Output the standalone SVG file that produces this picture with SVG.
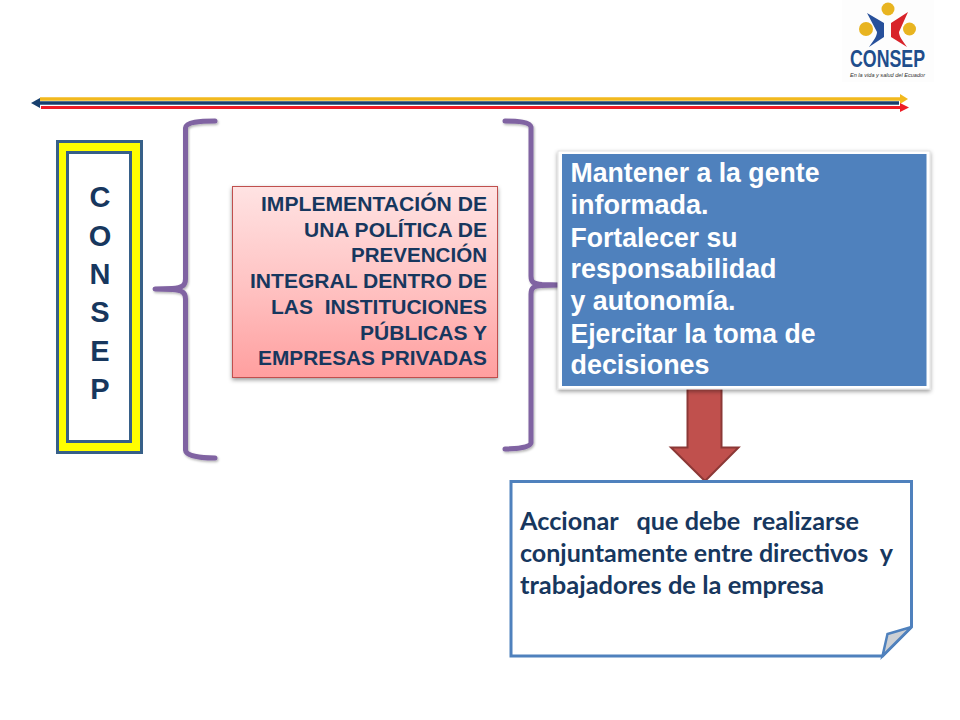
<svg xmlns="http://www.w3.org/2000/svg" width="960" height="720" viewBox="0 0 960 720">
<style>
.sans{font-family:"Liberation Sans",Arial,sans-serif;font-weight:bold}
.navy{fill:#17375e}
.brace{fill:none;stroke:#8064a2;stroke-width:5;stroke-linecap:round;stroke-linejoin:round;filter:url(#soft)}
.red{font-size:20px;text-anchor:end}
.white{font-size:27px;fill:#fff}
.note{font-family:Lato,"Open Sans",sans-serif;font-weight:bold;font-size:24px}
</style>
<defs>
<linearGradient id="pink" x1="0" y1="0" x2="0" y2="1"><stop offset="0" stop-color="#ffe3e3"/><stop offset="0.5" stop-color="#ffc4c4"/><stop offset="1" stop-color="#ff9f9f"/></linearGradient>
<filter id="soft" x="-20%" y="-5%" width="140%" height="110%"><feDropShadow dx="1" dy="1.5" stdDeviation="1.2" flood-color="#000" flood-opacity="0.3"/></filter>
<filter id="shadow" x="-5%" y="-5%" width="110%" height="110%"><feDropShadow dx="0" dy="2" stdDeviation="2" flood-color="#000" flood-opacity="0.4"/></filter>
</defs>
<rect width="960" height="720" fill="#fff"/>
<g id="logo">
<rect x="842" y="0" width="92" height="82" fill="#fdfdfd"/>
<circle cx="888" cy="9" r="6.500" fill="#e8b420"/>
<circle cx="866" cy="29" r="7" fill="#e8b420"/>
<circle cx="909.500" cy="29" r="6.500" fill="#e8b420"/>
<path d="M867 13L884 23V37L869 47C874 40 877 36 877 32Z" fill="#27509b"/>
<path d="M908 12L891 23V37L907 47C902 40 899 36 899 32Z" fill="#d8232a"/>
<text x="887.500" y="66.500" text-anchor="middle" font-family="Liberation Sans,Arial,sans-serif" font-weight="bold" font-size="23" fill="#1f4e8c" textLength="75" lengthAdjust="spacingAndGlyphs">CONSEP</text>
<text x="887.500" y="77" text-anchor="middle" font-family="Liberation Sans,Arial,sans-serif" font-style="italic" font-size="6" fill="#333" textLength="75" lengthAdjust="spacingAndGlyphs">En la vida y salud del Ecuador</text>
</g>
<g id="connectors">
<path d="M40 99H900" stroke="#f2b91e" stroke-width="3.500"/>
<path d="M900 94L908 99L900 104Z" fill="#f2b91e"/>
<path d="M38 103H899" stroke="#17406e" stroke-width="3.500"/>
<path d="M31 103L40 98V108Z" fill="#17406e"/>
<path d="M41 107.500H900" stroke="#ee1c25" stroke-width="3"/>
<path d="M900 103L909 107.500L900 112Z" fill="#ee1c25"/>
<path class="brace" d="M215 121C200 121 186 122 185.500 128V279C185.500 285 183 288 172 288.500L155 289L172 289.500C183 290 185.500 293 185.500 299V450C186 456 200 458 215 458"/>
<path class="brace" d="M505 121C518 121 530 122 531 127V276C531 282 533 284 542 284.500L560 285L542 285.500C533 286 531 288 531 294V443C530 447 518 449 505 449"/>
<path d="M687.500 387.500H721.500V447.500H738.500L705 481L671 447.500H687.500Z" fill="#c0504d" stroke="#8c3836" stroke-width="2"/>
</g>
<g id="consep">
<rect x="57.500" y="141.500" width="84" height="311" fill="#ffff00" stroke="#376088" stroke-width="3"/>
<rect x="67.500" y="152.500" width="63" height="289" fill="#fff" stroke="#376088" stroke-width="3"/>
<g class="sans navy" font-size="29" text-anchor="middle">
<text x="100" y="207">C</text>
<text x="100" y="246">O</text>
<text x="100" y="284">N</text>
<text x="100" y="322">S</text>
<text x="100" y="361">E</text>
<text x="100" y="399">P</text>
</g>
</g>
<g id="implementacion">
<rect x="232.500" y="186.500" width="265" height="191" fill="url(#pink)" stroke="#c0504d" filter="url(#shadow)"/>
<g class="sans navy red">
<text x="487" y="211" textLength="226" lengthAdjust="spacingAndGlyphs">IMPLEMENTACIÓN DE</text>
<text x="487" y="237" textLength="183" lengthAdjust="spacingAndGlyphs">UNA POLÍTICA DE</text>
<text x="487" y="262" textLength="136" lengthAdjust="spacingAndGlyphs">PREVENCIÓN</text>
<text x="487" y="288" textLength="237" lengthAdjust="spacingAndGlyphs">INTEGRAL DENTRO DE</text>
<text x="487" y="314" textLength="216" lengthAdjust="spacingAndGlyphs" xml:space="preserve">LAS  INSTITUCIONES</text>
<text x="487" y="340" textLength="127" lengthAdjust="spacingAndGlyphs">PÚBLICAS Y</text>
<text x="487" y="365" textLength="229" lengthAdjust="spacingAndGlyphs">EMPRESAS PRIVADAS</text>
</g>
</g>
<g id="mantener">
<rect x="558" y="151" width="372" height="238" fill="#fff" stroke="#e4e4e4" filter="url(#shadow)"/>
<rect x="562" y="154" width="364.500" height="232" fill="#4f81bd"/>
<g class="sans white">
<text x="570.500" y="182" textLength="249" lengthAdjust="spacingAndGlyphs">Mantener a la gente</text>
<text x="570.500" y="214" textLength="138" lengthAdjust="spacingAndGlyphs">informada.</text>
<text x="570.500" y="247" textLength="167" lengthAdjust="spacingAndGlyphs">Fortalecer su</text>
<text x="570.500" y="278" textLength="206" lengthAdjust="spacingAndGlyphs">responsabilidad</text>
<text x="570.500" y="310" textLength="165" lengthAdjust="spacingAndGlyphs">y autonomía.</text>
<text x="570.500" y="343" textLength="245" lengthAdjust="spacingAndGlyphs">Ejercitar la toma de</text>
<text x="570.500" y="374" textLength="139" lengthAdjust="spacingAndGlyphs">decisiones</text>
</g>
</g>
<g id="accionar">
<path d="M511 481.500H911.500V627L882.500 656H511Z" fill="#fff" stroke="#4f81bd" stroke-width="3"/>
<path d="M911.500 627L887.500 634L882.500 656Z" fill="#cdd0d4" stroke="#4f81bd" stroke-width="2.500"/>
<g class="note navy">
<text x="520" y="530" textLength="339" lengthAdjust="spacingAndGlyphs" xml:space="preserve">Accionar   que debe  realizarse</text>
<text x="520" y="562" textLength="373" lengthAdjust="spacingAndGlyphs" xml:space="preserve">conjuntamente entre directivos  y</text>
<text x="520" y="594" textLength="304" lengthAdjust="spacingAndGlyphs">trabajadores de la empresa</text>
</g>
</g>
</svg>
